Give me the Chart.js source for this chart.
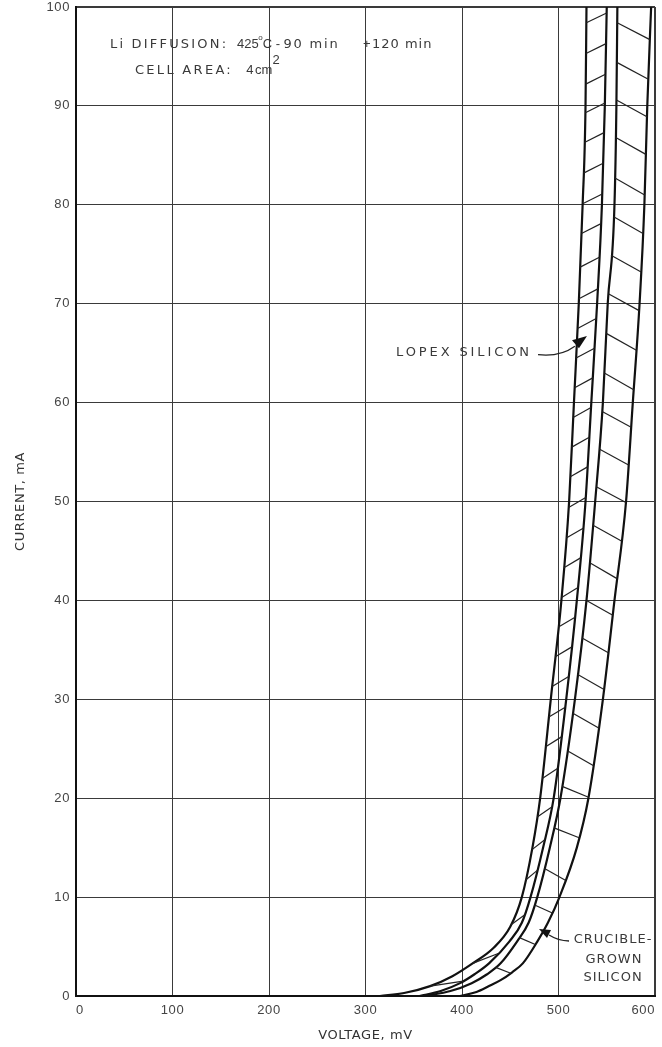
<!DOCTYPE html>
<html><head><meta charset="utf-8">
<script src="https://cdn.jsdelivr.net/npm/chart.js@4.4.1/dist/chart.umd.min.js"></script>
<style>html,body{margin:0;padding:0;background:#fff;}canvas{display:block}</style>
</head><body>
<canvas id="c" width="662" height="1047"></canvas>
<script>
// ---- tick labels ----
const voltageTicks = [0, 100, 200, 300, 400, 500, 600];
const currentTicks = [0, 10, 20, 30, 40, 50, 60, 70, 80, 90, 100];

// ---- curves: [voltage mV, current mA] ----
const lopexLeft = [[315,0],[340,0.3],[367,1.0],[390,2.0],[411,3.3],[432,4.8],[450,7.0],[462,10],[473,15],[481,20],[492,30],[503,40],[511,50],[516,60],[521,70],[525,80],[528,90],[529,100]];
const lopexRight = [[356,0],[378,0.5],[398,1.3],[413,2.2],[428,3.3],[449,5.5],[462,7.4],[471,10],[484,15],[495,20],[508,30],[519,40],[528,50],[534,60],[540,70],[545,80],[548,90],[550,100]];
const crucibleLeft = [[362,0],[388,0.5],[410,1.3],[426,2.2],[440,3.3],[457,5.5],[469,7.4],[478,10],[491,15],[502,20],[517,30],[529,40],[538,50],[546,60],[551,70],[558,80],[560,90],[561,100]];
const crucibleRight = [[398,0],[415,0.4],[428,1.0],[440,1.6],[452,2.4],[463,3.3],[478,5.5],[489,7.4],[501,10],[519,15],[531,20],[546,30],[558,40],[570,50],[577,60],[584,70],[589,80],[592,90],[596,100]];

// ---- hatch ticks: [current on left edge, current on right edge] ----
const lopexHatches = [[1.0,1.5],[3.3,4.3],[7.2,8.2],[11.7,12.7],[14.8,15.8],[18.1,19.1],[22,23],[25.2,26.2],[28.2,29.2],[31.3,32.3],[34.3,35.3],[37.3,38.3],[40.3,41.3],[43.3,44.3],[46.3,47.3],[49.4,50.4],[52.5,53.5],[55.5,56.5],[58.5,59.5],[61.5,62.5],[64.5,65.5],[67.5,68.5],[70.5,71.5],[73.7,74.7],[77.1,78.1],[80.1,81.1],[83.2,84.2],[86.3,87.3],[89.3,90.3],[92.2,93.2],[95.3,96.3],[98.4,99.4]];
const crucibleHatches = [[2.9,2.3],[5.9,5.2],[9.2,8.4],[12.9,11.7],[17,16],[21.2,20.1],[24.8,23.3],[28.6,27.1],[32.5,31],[36.2,34.7],[40,38.5],[43.8,42.2],[47.6,46],[51.5,49.9],[55.3,53.7],[59.1,57.5],[63,61.3],[67,65.3],[71,69.3],[74.9,73.2],[78.8,77.1],[82.7,81],[86.8,85.1],[90.6,88.9],[94.4,92.7],[98.4,96.7]];

function toPts(arr){ return arr.map(p => ({x:p[0], y:p[1]})); }
function vAt(curve, I){
  for (let k=1;k<curve.length;k++){
    const a=curve[k-1], b=curve[k];
    if (I>=a[1] && I<=b[1]) { const t=(I-a[1])/(b[1]-a[1]); return a[0]+t*(b[0]-a[0]); }
  }
  return curve[curve.length-1][0];
}
const hatchStyle = {showLine:true, borderColor:'#222', borderWidth:1.2, pointRadius:0, fill:false, tension:0};
function hatchSets(left, right, pairs, name){
  return pairs.map((p,k) => Object.assign({label:name+k, data:[{x:vAt(left,p[0]), y:p[0]},{x:vAt(right,p[1]), y:p[1]}]}, hatchStyle));
}

const curveStyle = {showLine:true, borderColor:'#111', borderWidth:2.2, pointRadius:0, fill:false, cubicInterpolationMode:'monotone'};

const TICKFONT = "'Liberation Sans', Arial, sans-serif";
const LABELFONT = "'DejaVu Sans', sans-serif";

const spacing = {
  id:'spacing',
  beforeDraw(chart){ chart.ctx.letterSpacing = '0.6px'; }
};

const annotate = {
  id:'annotate',
  afterDatasetsDraw(chart){
    const ctx=chart.ctx, xs=chart.scales.x, ys=chart.scales.y;
    const P=(v,i)=>[xs.getPixelForValue(v), ys.getPixelForValue(i)];
    ctx.save();
    ctx.fillStyle='#3a3a3a';
    ctx.textBaseline='middle';
    ctx.textAlign='left';
    const txt=(s,v,i,size,ls,fam)=>{ ctx.letterSpacing=ls; ctx.font=size+"px "+(fam||LABELFONT); const p=P(v,i); ctx.fillText(s,p[0],p[1]); };
    // header annotation
    txt('Li DIFFUSION:', 35.2, 96.2, 13, '2.2px');
    txt('425', 166.8, 96.2, 13, '0px', TICKFONT);
    txt('o', 188.8, 96.9, 8, '0px', TICKFONT);
    txt('C', 193.5, 96.2, 13, '0px', TICKFONT);
    txt('-', 207, 96.2, 13, '0px', TICKFONT);
    txt('90 min', 215, 96.2, 13, '1.8px');
    txt('+', 297.4, 96.2, 13, '0px', TICKFONT);
    txt('120 min', 306.7, 96.2, 13, '1px');
    txt('CELL AREA:', 61.1, 93.6, 13, '2.3px');
    txt('4', 176.5, 93.6, 13, '0px', TICKFONT);
    txt('cm', 185.5, 93.6, 13, '0px', TICKFONT);
    txt('2', 203.5, 94.6, 13, '0px', TICKFONT);

    // LOPEX label + arrow
    ctx.textAlign='right';
    txt('LOPEX SILICON', 472.5, 65.1, 13, '2.9px');
    ctx.strokeStyle='#222'; ctx.lineWidth=1.3;
    let a0=P(478.8,64.85), a1=P(501.6,64.6), a2=P(517,65.7);
    ctx.beginPath(); ctx.moveTo(a0[0],a0[1]); ctx.quadraticCurveTo(a1[0],a1[1],a2[0],a2[1]); ctx.stroke();
    let t=P(529.5,66.73), b1=P(514,66.3), b2=P(521.2,65.5);
    ctx.fillStyle='#111'; ctx.beginPath(); ctx.moveTo(t[0],t[1]); ctx.lineTo(b1[0],b1[1]); ctx.lineTo(b2[0],b2[1]); ctx.closePath(); ctx.fill();

    // CRUCIBLE label + arrow
    ctx.fillStyle='#3a3a3a'; ctx.textAlign='center';
    txt('CRUCIBLE-', 556.5, 5.66, 13, '1px');
    txt('GROWN', 557.5, 3.64, 13, '1px');
    txt('SILICON', 556.5, 1.82, 13, '1px');
    a0=P(510.9,5.56); a1=P(499.5,5.6); a2=P(490.2,6.17);
    ctx.beginPath(); ctx.moveTo(a0[0],a0[1]); ctx.quadraticCurveTo(a1[0],a1[1],a2[0],a2[1]); ctx.stroke();
    t=P(479.8,6.77); b1=P(492.2,6.67); b2=P(488.1,5.86);
    ctx.fillStyle='#111'; ctx.beginPath(); ctx.moveTo(t[0],t[1]); ctx.lineTo(b1[0],b1[1]); ctx.lineTo(b2[0],b2[1]); ctx.closePath(); ctx.fill();
    ctx.restore();
  }
};

const edgeWidth = (edge) => (c) => (c.tick && c.tick.value === edge ? 2 : 1);

new Chart(document.getElementById('c'), {
  type:'scatter',
  data:{datasets:[].concat(
    hatchSets(lopexLeft, lopexRight, lopexHatches, 'Lopex hatch '),
    hatchSets(crucibleLeft, crucibleRight, crucibleHatches, 'Crucible hatch '),
    [
      Object.assign({label:'Lopex left', data:toPts(lopexLeft)}, curveStyle),
      Object.assign({label:'Lopex right', data:toPts(lopexRight)}, curveStyle),
      Object.assign({label:'Crucible left', data:toPts(crucibleLeft)}, curveStyle),
      Object.assign({label:'Crucible right', data:toPts(crucibleRight)}, curveStyle)
    ])},
  options:{
    responsive:false, animation:false, devicePixelRatio:1,
    layout:{padding:{top:7,right:7,left:0,bottom:0}},
    plugins:{legend:{display:false}, tooltip:{enabled:false}},
    scales:{
      x:{type:'linear', min:0, max:600,
        afterBuildTicks:s=>{s.ticks=voltageTicks.map(v=>({value:v}));},
        afterFit:s=>{s.height=51; s.paddingLeft=0; s.paddingRight=0;},
        ticks:{color:'#444', padding:7, font:{family:TICKFONT,size:13}, maxRotation:0, align:'inner'},
        grid:{color:'#3a3a3a', lineWidth:edgeWidth(600), drawTicks:false},
        border:{color:'#111', width:2},
        title:{display:true, text:'VOLTAGE, mV', color:'#333', font:{family:LABELFONT,size:13}, padding:{top:0,bottom:4}}
      },
      y:{type:'linear', min:0, max:100,
        afterBuildTicks:s=>{s.ticks=currentTicks.map(v=>({value:v}));},
        afterFit:s=>{s.width=76; s.paddingTop=0; s.paddingBottom=0;},
        ticks:{color:'#444', padding:6, font:{family:TICKFONT,size:13}},
        grid:{color:'#3a3a3a', lineWidth:edgeWidth(100), drawTicks:false},
        border:{color:'#111', width:2},
        title:{display:true, text:'CURRENT, mA', color:'#333', font:{family:LABELFONT,size:13}, padding:{top:13,bottom:0}}
      }
    }
  },
  plugins:[spacing, annotate]
});
</script>
</body></html>
